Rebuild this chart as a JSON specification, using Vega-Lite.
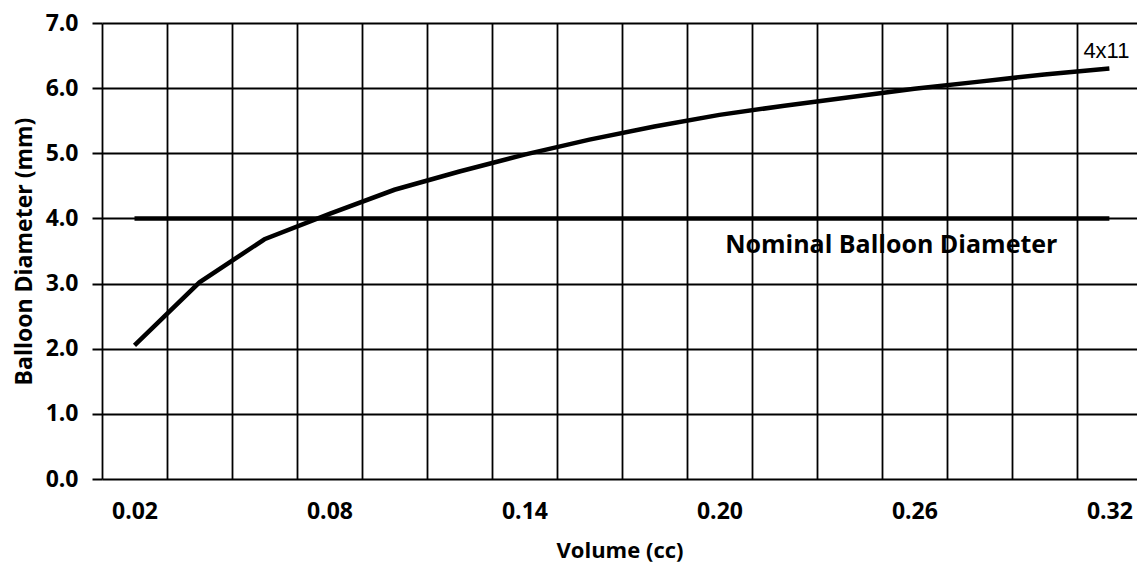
{
  "$schema": "https://vega.github.io/schema/vega-lite/v6.json",
  "width": 1035,
  "height": 456,
  "autosize": {"type": "none"},
  "padding": {"left": 102, "top": 23, "right": 0, "bottom": 85},
  "background": "white",
  "config": {"view": {"stroke": null}, "font": "Open Sans"},
  "data": {
    "values": [
      {"series": "4x11", "volume": 0.02, "diameter": 2.05},
      {"series": "4x11", "volume": 0.04, "diameter": 3.02},
      {"series": "4x11", "volume": 0.06, "diameter": 3.68},
      {"series": "4x11", "volume": 0.08, "diameter": 4.07},
      {"series": "4x11", "volume": 0.10, "diameter": 4.44},
      {"series": "4x11", "volume": 0.12, "diameter": 4.72},
      {"series": "4x11", "volume": 0.14, "diameter": 4.98},
      {"series": "4x11", "volume": 0.16, "diameter": 5.21},
      {"series": "4x11", "volume": 0.18, "diameter": 5.41},
      {"series": "4x11", "volume": 0.20, "diameter": 5.59},
      {"series": "4x11", "volume": 0.22, "diameter": 5.73},
      {"series": "4x11", "volume": 0.24, "diameter": 5.86},
      {"series": "4x11", "volume": 0.26, "diameter": 5.99},
      {"series": "4x11", "volume": 0.28, "diameter": 6.10},
      {"series": "4x11", "volume": 0.30, "diameter": 6.21},
      {"series": "4x11", "volume": 0.32, "diameter": 6.30},
      {"series": "Nominal Balloon Diameter", "volume": 0.02, "diameter": 4.0},
      {"series": "Nominal Balloon Diameter", "volume": 0.32, "diameter": 4.0}
    ]
  },
  "encoding": {
    "y": {
      "field": "diameter", "type": "quantitative",
      "scale": {"domain": [0, 7], "nice": false, "zero": true},
      "axis": {
        "values": [0, 1, 2, 3, 4, 5, 6, 7],
        "format": ".1f",
        "grid": true, "gridColor": "black", "gridWidth": 2, "gridOpacity": 1,
        "ticks": true, "tickSize": 10, "tickColor": "black", "tickWidth": 2,
        "domain": false,
        "labelFont": "Open Sans", "labelFontWeight": "bold", "labelFontSize": 23, "labelColor": "black",
        "labelPadding": 14,
        "title": "Balloon Diameter (mm)",
        "titleFont": "Open Sans", "titleFontWeight": "bold", "titleFontSize": 23, "titleColor": "black",
        "titlePadding": 9
      }
    }
  },
  "layer": [
    {
      "mark": {"type": "line", "color": "black", "strokeWidth": 4.5, "strokeCap": "butt"},
      "encoding": {
        "x": {
          "field": "volume", "type": "quantitative",
          "scale": {"domain": [0.01, 0.3285], "nice": false, "zero": false},
          "axis": {
            "orient": "bottom",
            "values": [0.01, 0.03, 0.05, 0.07, 0.09, 0.11, 0.13, 0.15, 0.17, 0.19, 0.21, 0.23, 0.25, 0.27, 0.29, 0.31],
            "grid": true, "gridColor": "black", "gridWidth": 1.8, "gridOpacity": 1,
            "labels": false, "ticks": false, "domain": false, "title": null
          }
        },
        "detail": {"field": "series"}
      }
    },
    {
      "transform": [{"filter": "datum.series == '4x11' && datum.volume > 0.319"}],
      "mark": {"type": "text", "align": "left", "baseline": "middle", "dx": -26, "dy": -18, "font": "Liberation Sans", "fontSize": 22, "color": "black"},
      "encoding": {
        "x": {
          "field": "volume", "type": "quantitative",
          "axis": {
            "orient": "bottom",
            "values": [0.02, 0.08, 0.14, 0.20, 0.26, 0.32],
            "format": ".2f",
            "grid": false, "ticks": false, "tickSize": 0, "domain": false,
            "labelFont": "Open Sans", "labelFontWeight": "bold", "labelFontSize": 23, "labelColor": "black",
            "labelPadding": 21,
            "title": "Volume (cc)",
            "titleFont": "Open Sans", "titleFontWeight": "bold", "titleFontSize": 22, "titleColor": "black",
            "titlePadding": 17
          }
        },
        "text": {"field": "series"}
      }
    },
    {
      "transform": [{"filter": "datum.series == 'Nominal Balloon Diameter' && datum.volume > 0.319"}],
      "mark": {"type": "text", "align": "right", "baseline": "middle", "dx": -52, "dy": 27, "font": "Open Sans", "fontWeight": "bold", "fontSize": 25, "color": "black"},
      "encoding": {
        "x": {"field": "volume", "type": "quantitative", "axis": null},
        "text": {"field": "series"}
      }
    }
  ],
  "resolve": {"axis": {"x": "independent"}}
}
